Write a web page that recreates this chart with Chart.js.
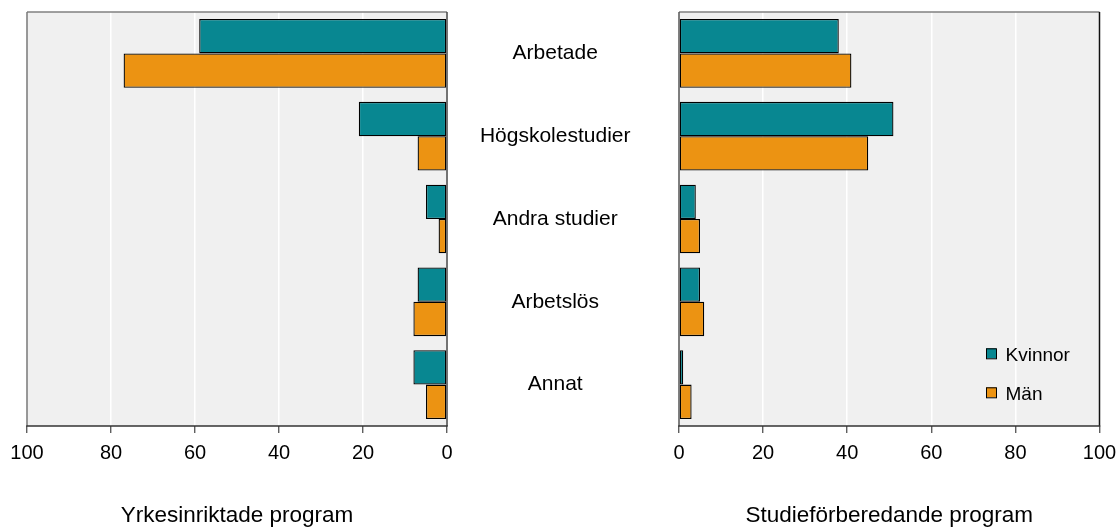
<!DOCTYPE html>
<html>
<head>
<meta charset="utf-8">
<script src="https://cdn.jsdelivr.net/npm/chart.js@4/dist/chart.umd.min.js"></script>
<style>
  html, body { margin: 0; padding: 0; background: #fff; }
  body { width: 1117px; height: 527px; position: relative; overflow: hidden; }
  canvas { position: absolute; top: 0; }
  #left { left: 0; }
  #right { left: 447px; }
</style>
</head>
<body>
<canvas id="left" width="460" height="527"></canvas>
<canvas id="right" width="670" height="527"></canvas>
<script>
const categories = ['Arbetade', 'Högskolestudier', 'Andra studier', 'Arbetslös', 'Annat'];
const seriesNames = ['Kvinnor', 'Män'];
const yrkesKvinnor = [59, 21, 5, 7, 8];
const yrkesMan = [77, 7, 2, 8, 5];
const studKvinnor = [38, 51, 4, 5, 1];
const studMan = [41, 45, 5, 6, 3];
const xTicks = [0, 20, 40, 60, 80, 100];
const titleLeft = 'Yrkesinriktade program';
const titleRight = 'Studieförberedande program';

const TEAL = '#088791';
const ORANGE = '#EC9312';
const FONT = "'Liberation Sans', Arial, sans-serif";

const bgPlugin = {
  id: 'bg',
  beforeDraw(chart) {
    const {ctx, chartArea: a} = chart;
    ctx.save();
    ctx.fillStyle = '#f0f0f0';
    ctx.fillRect(a.left, a.top, a.right - a.left, a.bottom - a.top);
    ctx.restore();
  }
};

function borderPlugin(leftColor, rightColor) {
  return {
    id: 'frame',
    afterDatasetsDraw(chart) {
      const {ctx, chartArea: a} = chart;
      ctx.save();
      ctx.lineWidth = 1.5;
      ctx.strokeStyle = '#808080';
      ctx.beginPath(); ctx.moveTo(a.left, a.top); ctx.lineTo(a.right, a.top); ctx.stroke();
      ctx.strokeStyle = leftColor;
      ctx.beginPath(); ctx.moveTo(a.left, a.top); ctx.lineTo(a.left, a.bottom); ctx.stroke();
      ctx.strokeStyle = rightColor;
      ctx.beginPath(); ctx.moveTo(a.right, a.top); ctx.lineTo(a.right, a.bottom); ctx.stroke();
      ctx.strokeStyle = '#333';
      ctx.beginPath(); ctx.moveTo(a.left - 0.75, a.bottom); ctx.lineTo(a.right + 0.75, a.bottom); ctx.stroke();
      ctx.restore();
    }
  };
}

const legendPlugin = {
  id: 'innerLegend',
  afterDraw(chart) {
    const {ctx, chartArea: a} = chart;
    ctx.save();
    ctx.font = '19px ' + FONT;
    ctx.textBaseline = 'alphabetic';
    ctx.textAlign = 'left';
    chart.data.datasets.forEach((ds, i) => {
      const sx = a.right - 113.5;
      const sy = a.bottom - 77.7 + i * 39;
      ctx.fillStyle = ds.backgroundColor;
      ctx.fillRect(sx, sy, 10, 10);
      ctx.strokeStyle = '#000';
      ctx.lineWidth = 1;
      ctx.strokeRect(sx + 0.5, sy + 0.5, 10, 10);
      ctx.fillStyle = '#000';
      ctx.fillText(ds.label, a.right - 94, sy + 12.7);
    });
    ctx.restore();
  }
};

function xScale(reverse, title) {
  return {
    type: 'linear',
    min: 0, max: 100,
    reverse: reverse,
    afterBuildTicks(scale) { scale.ticks = xTicks.map(v => ({value: v})); },
    afterFit(scale) { scale.height = 101; scale.paddingLeft = 0; scale.paddingRight = 0; },
    grid: { color: '#ffffff', lineWidth: 1.5, drawTicks: true, tickLength: 7, tickColor: '#444', tickWidth: 1.2 },
    border: { display: false },
    ticks: { color: '#000', font: { family: FONT, size: 20 }, padding: 8, maxRotation: 0 },
    title: { display: true, text: title, color: '#000', font: { family: FONT, size: 22.5, lineHeight: 1 }, padding: { top: 0, bottom: 0 } }
  };
}

function datasets(k, m) {
  return [
    { label: seriesNames[0], data: k, backgroundColor: TEAL, borderColor: '#000', borderWidth: 1.3, borderSkipped: false,
      categoryPercentage: 0.83, barPercentage: 1 },
    { label: seriesNames[1], data: m, backgroundColor: ORANGE, borderColor: '#000', borderWidth: 1.3, borderSkipped: false,
      categoryPercentage: 0.83, barPercentage: 1 }
  ];
}

Chart.defaults.font.family = FONT;

new Chart(document.getElementById('left'), {
  type: 'bar',
  data: { labels: categories, datasets: datasets(yrkesKvinnor, yrkesMan) },
  options: {
    indexAxis: 'y',
    responsive: false,
    animation: false,
    devicePixelRatio: 1,
    layout: { padding: { left: 27, right: 13, top: 12, bottom: 0 } },
    plugins: { legend: { display: false }, tooltip: { enabled: false } },
    scales: {
      x: xScale(true, titleLeft),
      y: { display: false }
    }
  },
  plugins: [bgPlugin, borderPlugin('#777', '#444')]
});

new Chart(document.getElementById('right'), {
  type: 'bar',
  data: { labels: categories, datasets: datasets(studKvinnor, studMan) },
  options: {
    indexAxis: 'y',
    responsive: false,
    animation: false,
    devicePixelRatio: 1,
    layout: { padding: { left: 0, right: 17.5, top: 12, bottom: 0 } },
    plugins: { legend: { display: false }, tooltip: { enabled: false } },
    scales: {
      x: xScale(false, titleRight),
      y: {
        position: 'left',
        afterFit(scale) { scale.width = 232; scale.paddingTop = 0; scale.paddingBottom = 0; },
        grid: { display: false, drawTicks: false },
        border: { display: false },
        ticks: { color: '#000', font: { family: FONT, size: 21 }, crossAlign: 'center', padding: 48.5 }
      }
    }
  },
  plugins: [bgPlugin, borderPlugin('#555', '#111'), legendPlugin]
});
</script>
</body>
</html>
